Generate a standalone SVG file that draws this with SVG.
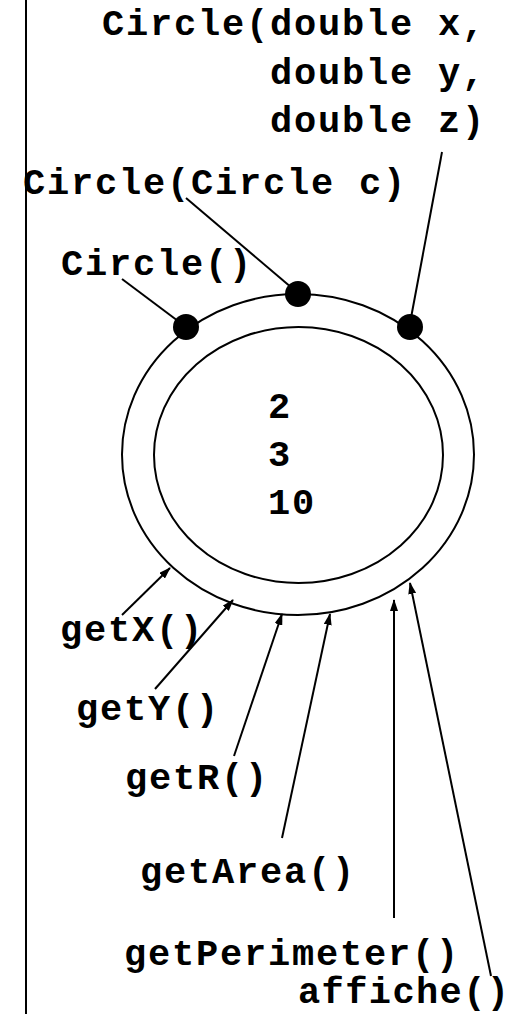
<svg xmlns="http://www.w3.org/2000/svg" width="513" height="1014" viewBox="0 0 513 1014">
<style>
text{font-family:"Liberation Mono","Courier New",monospace;font-weight:bold;font-size:37px;letter-spacing:1.8px;fill:#000}
.ln{stroke:#000;stroke-width:2;fill:none}
.ar{stroke:#000;stroke-width:2;fill:none;marker-end:url(#ah)}
.ring{stroke:#000;stroke-width:2;fill:none}
.dot{fill:#000}
</style>
<defs>
<marker id="ah" markerWidth="12" markerHeight="8" refX="11" refY="4" orient="auto" markerUnits="userSpaceOnUse">
<path d="M0,0 L12,4 L0,8 Z" fill="#000"/>
</marker>
</defs>
<rect width="513" height="1014" fill="#fff"/>
<line class="ln" x1="26" y1="0" x2="26" y2="1014"/>
<g id="object">
<ellipse class="ring" cx="298" cy="454.5" rx="176" ry="160.5"/>
<ellipse class="ring" cx="298.5" cy="455" rx="144.5" ry="128"/>
<text x="268" y="418">2</text>
<text x="268" y="466">3</text>
<text x="268" y="514">10</text>
</g>
<g id="ctor-xyz">
<circle class="dot" cx="410" cy="327" r="13"/>
<text x="102" y="35">Circle(double x,</text>
<text x="270" y="84">double y,</text>
<text x="270" y="132">double z)</text>
</g>
<g id="ctor-copy">
<circle class="dot" cx="298" cy="294" r="13"/>
<text x="23" y="194">Circle(Circle c)</text>
</g>
<g id="ctor-default">
<circle class="dot" cx="186" cy="327" r="13"/>
<text x="61" y="275">Circle()</text>
</g>
<g id="getX"><text x="60" y="641">getX()</text></g>
<g id="getY"><text x="76" y="720">getY()</text></g>
<g id="getR"><text x="125" y="789">getR()</text></g>
<g id="getArea"><text x="140" y="883">getArea()</text></g>
<g id="getPerimeter"><text x="124" y="965">getPerimeter()</text></g>
<g id="affiche"><text x="298" y="1003" style="letter-spacing:1.4px">affiche()</text></g>
<g id="connectors">
<line class="ln" x1="442" y1="152" x2="411" y2="318"/>
<line class="ln" x1="186" y1="198" x2="292" y2="288"/>
<line class="ln" x1="122" y1="279" x2="186" y2="327"/>
<line class="ar" x1="122" y1="615" x2="170" y2="568"/>
<line class="ar" x1="155" y1="689" x2="233" y2="600"/>
<line class="ar" x1="234" y1="756" x2="282" y2="614"/>
<line class="ar" x1="282" y1="838" x2="330" y2="614"/>
<line class="ar" x1="394" y1="918" x2="394" y2="600"/>
<line class="ar" x1="491" y1="976" x2="410" y2="583"/>
</g>
</svg>
